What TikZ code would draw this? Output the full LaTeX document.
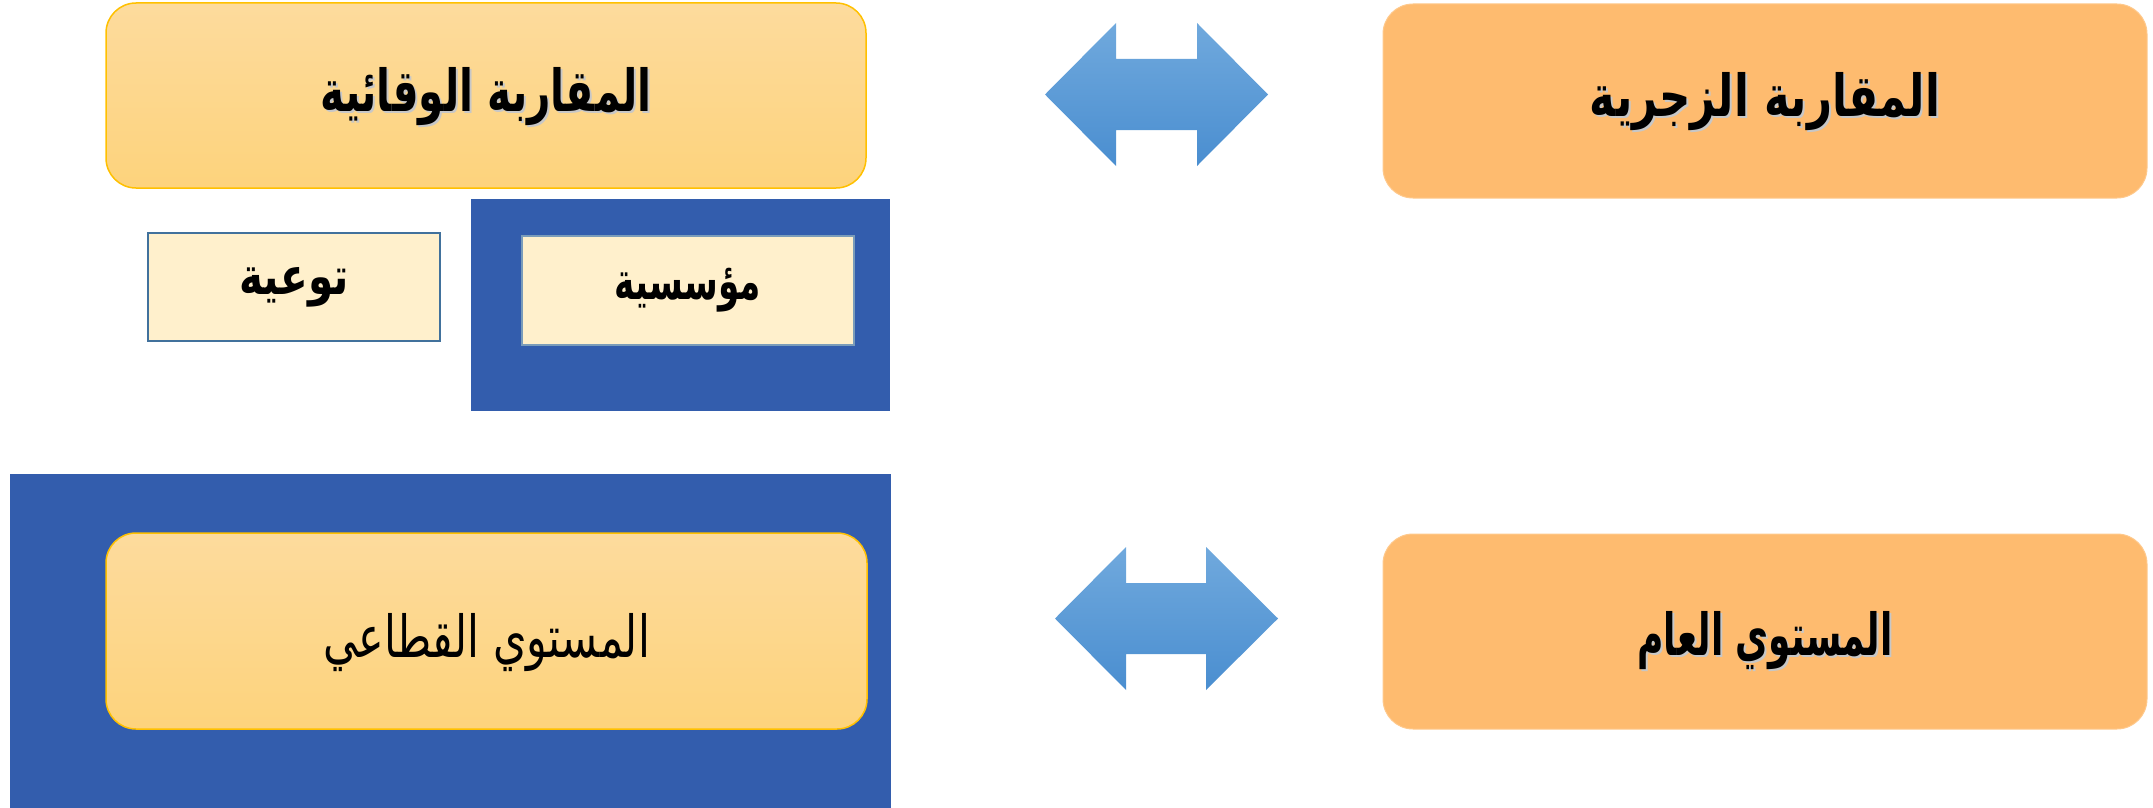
\documentclass[tikz,border=0pt]{standalone}
\usepackage{fontspec}
\usepackage{graphicx}
\TeXXeTstate=1
\newfontfamily\arabicfont[Script=Arabic]{DejaVu Sans}
\usetikzlibrary{calc}

\definecolor{goldtop}{HTML}{FDDB9D}
\definecolor{goldbot}{HTML}{FDD37C}
\definecolor{goldline}{HTML}{FFC000}
\definecolor{orangebox}{HTML}{FEBB6F}
\definecolor{navyfill}{HTML}{335DAD}
\definecolor{creamfill}{HTML}{FFF0CC}
\definecolor{steelline}{HTML}{41719C}
\definecolor{arrowtop}{HTML}{70A9DD}
\definecolor{arrowbot}{HTML}{4A8ED0}

% narrow a line of text horizontally
\newcommand\narrowAr[2]{\scalebox{#1}[1]{#2}}

\tikzset{
  goldbox/.style={draw=goldline, line width=1.5pt, top color=goldtop, bottom color=goldbot,
    rounded corners=30pt, inner sep=0pt},
  orangecard/.style={fill=orangebox, draw=orangebox!80!white, line width=1pt,
    rounded corners=30pt, inner sep=0pt},
  navypanel/.style={fill=navyfill, draw=none, inner sep=0pt},
  creambox/.style={fill=creamfill, draw=steelline, line width=2.5pt, inner sep=0pt},
  creamboxsoft/.style={fill=creamfill, draw=steelline!70!white, line width=2pt, inner sep=0pt},
  bigtext/.style={font=\fontsize{58}{66}\selectfont\bfseries\arabicfont},
  regtext/.style={font=\fontsize{58}{66}\selectfont\arabicfont},
  smalltext/.style={font=\fontsize{52}{60}\selectfont\bfseries\arabicfont},
  shadowtext/.style={text=black!22},
  twoway/.style={top color=arrowtop, bottom color=arrowbot, draw=none},
}

\begin{document}
\begin{tikzpicture}[x=1pt, y=-1pt]
\useasboundingbox (0,0) rectangle (2153,808);

% dark blue panels
\node[navypanel, minimum width=419pt, minimum height=212pt] (panelTop) at (680.5,305) {};
\node[navypanel, minimum width=881pt, minimum height=334pt] (panelBot) at (450.5,641) {};

% approach boxes
\node[goldbox, minimum width=760pt, minimum height=185pt] (prev) at (486,95.5) {};
\node[orangecard, minimum width=764pt, minimum height=194pt] (deter) at (1765,101) {};

% level boxes
\node[goldbox, minimum width=761pt, minimum height=196pt] (sector) at (486.5,631) {};
\node[orangecard, minimum width=764pt, minimum height=195pt] (general) at (1765,631.5) {};

% sub boxes
\node[creambox, minimum width=292pt, minimum height=108pt] (aware) at (294,287) {};
\node[creamboxsoft, minimum width=332pt, minimum height=109pt] (inst) at (688,290.5) {};

% labels, the bold ones with a soft shadow
\node[bigtext, shadowtext] at ($(prev.center)+(2,3)$) {\narrowAr{0.70}{\beginR المقاربة الوقائية\endR}};
\node[bigtext] (prevlbl) at ($(prev.center)+(0,1)$) {\narrowAr{0.70}{\beginR المقاربة الوقائية\endR}};

\node[bigtext, shadowtext] at ($(deter.center)+(2,3)$) {\narrowAr{0.75}{\beginR المقاربة الزجرية\endR}};
\node[bigtext] (deterlbl) at ($(deter.center)+(0,1)$) {\narrowAr{0.75}{\beginR المقاربة الزجرية\endR}};

\node[regtext] (sectorlbl) at ($(sector.center)+(0,12)$) {\narrowAr{0.74}{\beginR المستوي القطاعي\endR}};

\node[bigtext, shadowtext] at ($(general.center)+(2,11)$) {\narrowAr{0.62}{\beginR المستوي العام\endR}};
\node[bigtext] (generallbl) at ($(general.center)+(0,9)$) {\narrowAr{0.62}{\beginR المستوي العام\endR}};

\node[smalltext] (awarelbl) at (aware.center) {\narrowAr{0.78}{\beginR توعية\endR}};
\node[smalltext] (instlbl) at (inst.center) {\narrowAr{0.66}{\beginR مؤسسية\endR}};

% two-way arrows
\shade[twoway] (1045,94.5) -- (1116,23) -- (1116,59) -- (1197,59) -- (1197,23)
  -- (1268,94.5) -- (1197,166) -- (1197,130) -- (1116,130) -- (1116,166) -- cycle;
\shade[twoway] (1055,618.5) -- (1126,547) -- (1126,583) -- (1206,583) -- (1206,547)
  -- (1278,618.5) -- (1206,690) -- (1206,654) -- (1126,654) -- (1126,690) -- cycle;
\end{tikzpicture}
\end{document}
